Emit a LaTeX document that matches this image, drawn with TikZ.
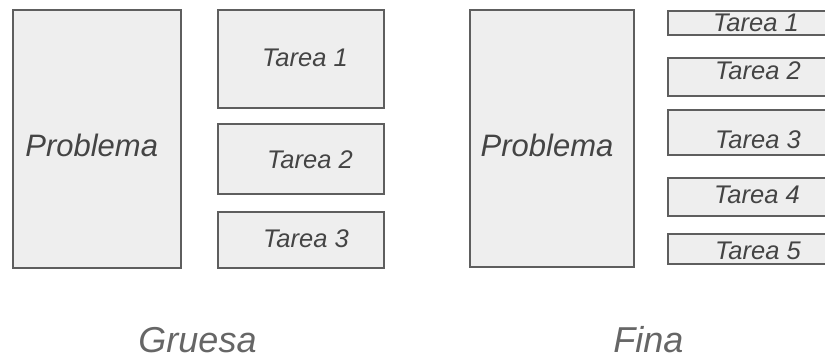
\documentclass[tikz,border=0pt]{standalone}
\usepackage{fontspec}
\setmainfont{Liberation Sans}
\definecolor{boxfill}{HTML}{EEEEEE}
\definecolor{boxline}{HTML}{5E5E5E}
\definecolor{labeltext}{HTML}{444444}
\definecolor{captiontext}{HTML}{666666}
\tikzset{
  box/.style={draw=boxline, fill=boxfill, line width=2pt, anchor=north west, inner sep=0pt},
  tasklabel/.style={anchor=base, inner sep=0pt, text=labeltext, font=\itshape\fontsize{25.5}{30}\selectfont},
  problabel/.style={anchor=base, inner sep=0pt, text=labeltext, font=\itshape\fontsize{31}{36}\selectfont},
  caption/.style={anchor=base, inner sep=0pt, text=captiontext, font=\itshape\fontsize{36}{42}\selectfont}
}
\begin{document}
\begin{tikzpicture}[x=1pt, y=-1pt]
\useasboundingbox (0,0) rectangle (825,358);
% coarse decomposition
\node[box, minimum width=168.3pt, minimum height=257.4pt] (cp) at (11.7,9.3) {};
\node[box, minimum width=166.6pt, minimum height=98pt] (ct1) at (216.7,9.3) {};
\node[box, minimum width=166.6pt, minimum height=70pt] (ct2) at (216.7,123.3) {};
\node[box, minimum width=166.6pt, minimum height=56pt] (ct3) at (216.7,210.7) {};
\node[problabel] (cpl) at (91.7,156.7) {Problema};
\node[tasklabel] (ct1l) at (305,66.7) {Tarea 1};
\node[tasklabel] (ct2l) at (310,168.3) {Tarea 2};
\node[tasklabel] (ct3l) at (306,248) {Tarea 3};
% fine decomposition
\node[box, minimum width=164.3pt, minimum height=256.4pt] (fp) at (469,9.3) {};
\node[box, minimum width=170pt, minimum height=24.3pt] (ft1) at (667.3,10) {};
\node[box, minimum width=170pt, minimum height=38.3pt] (ft2) at (667.3,56.7) {};
\node[box, minimum width=170pt, minimum height=44.7pt] (ft3) at (667.3,109.3) {};
\node[box, minimum width=170pt, minimum height=38.3pt] (ft4) at (667.3,176.7) {};
\node[box, minimum width=170pt, minimum height=30pt] (ft5) at (667.3,233.3) {};
\node[problabel] (fpl) at (547,157) {Problema};
\node[tasklabel] (ft1l) at (756,31.5) {Tarea 1};
\node[tasklabel] (ft2l) at (758,80) {Tarea 2};
\node[tasklabel] (ft3l) at (758,148.3) {Tarea 3};
\node[tasklabel] (ft4l) at (757,204) {Tarea 4};
\node[tasklabel] (ft5l) at (758,259.3) {Tarea 5};
% captions
\node[caption] (coarse) at (197.5,352.5) {Gruesa};
\node[caption] (fine) at (648.5,352.5) {Fina};
\end{tikzpicture}
\end{document}
